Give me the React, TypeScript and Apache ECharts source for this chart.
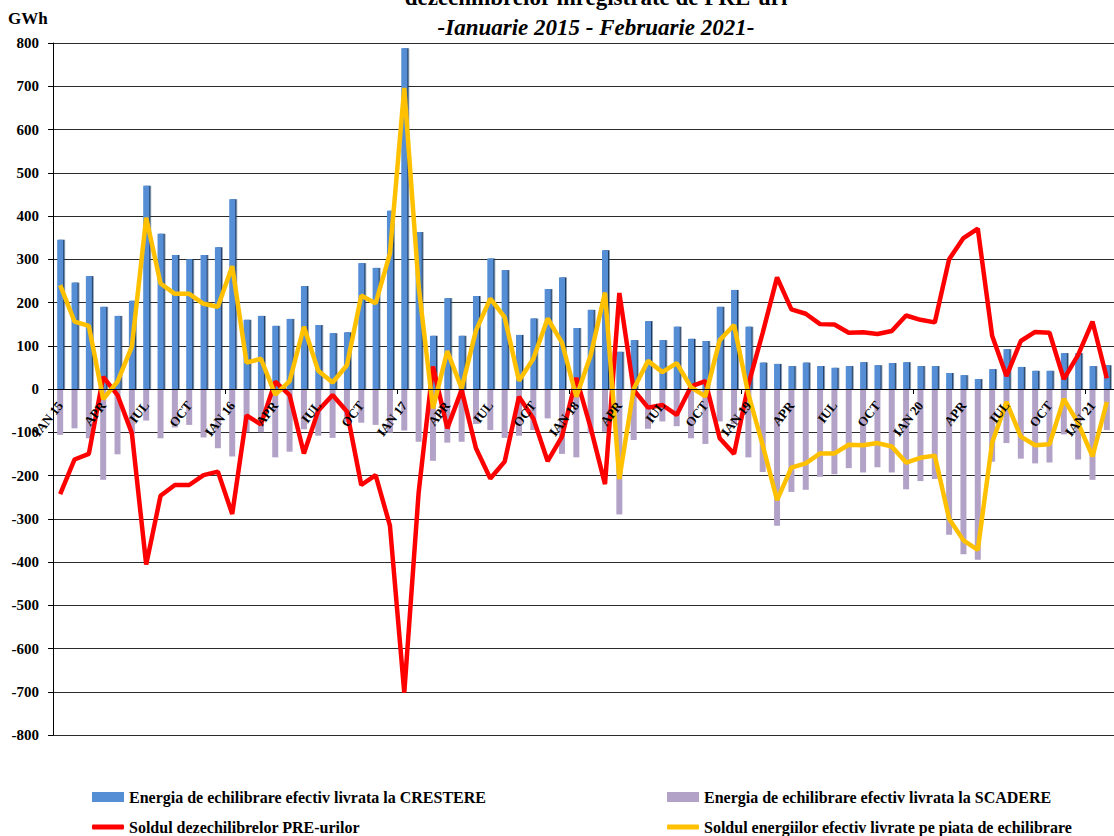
import React, { useEffect, useRef } from "react";
import * as echarts from "echarts";

const MONTHS = ["IAN", "FEB", "MAR", "APR", "MAI", "IUN", "IUL", "AUG", "SEP", "OCT", "NOI", "DEC"];
const YEARS = ["15", "16", "17", "18", "19", "20", "21"];

// Jan 2015 .. Feb 2021 (74 months)
const categories: string[] = [];
YEARS.forEach((y, yi) => {
  MONTHS.forEach((m, mi) => {
    if (yi === 6 && mi > 1) return;
    categories.push(mi === 0 ? `${m} ${y}` : m);
  });
});

const crestere = [
  345, 246, 261, 190, 169, 204, 470, 359, 310, 300, 310, 328,
  439, 160, 169, 146, 162, 238, 148, 129, 131, 291, 280, 412,
  788, 363, 123, 210, 123, 215, 302, 275, 125, 163, 231, 258,
  141, 183, 321, 86, 113, 157, 113, 144, 116, 111, 190, 229,
  144, 61, 58, 53, 61, 53, 49, 53, 62, 55, 60, 62,
  53, 53, 37, 32, 23, 46, 92, 51, 42, 42, 83, 83,
  53, 55,
];

const scadere = [
  -106, -91, -114, -210, -151, -104, -73, -114, -89, -83, -112, -137,
  -156, -100, -100, -158, -145, -93, -108, -113, -76, -78, -83, -101,
  -96, -122, -166, -124, -122, -81, -95, -113, -108, -95, -68, -150,
  -158, -103, -99, -290, -118, -92, -75, -86, -114, -127, -75, -81,
  -158, -192, -316, -238, -233, -203, -197, -183, -193, -181, -193, -232,
  -213, -208, -337, -382, -395, -168, -125, -161, -172, -170, -105, -163,
  -210, -95,
];

const soldPRE = [
  -243, -163, -150, 28, -14, -102, -406, -247, -222, -222, -199, -191,
  -289, -61, -82, 17, -14, -149, -50, -14, -52, -222, -199, -316,
  -702, -240, 52, -91, -2, -137, -207, -168, -18, -68, -167, -110,
  26, -90, -220, 222, -2, -43, -37, -60, 6, 18, -114, -150,
  10, 130, 258, 184, 174, 150, 149, 130, 131, 127, 134, 170,
  160, 154, 300, 349, 371, 123, 30, 111, 132, 130, 23, 79,
  156, 25,
];

const soldPE = [
  240, 156, 146, -23, 17, 98, 396, 244, 220, 220, 197, 190,
  284, 61, 70, -13, 18, 144, 42, 15, 55, 216, 198, 313,
  696, 238, -45, 88, 1, 135, 209, 166, 19, 70, 163, 107,
  -18, 78, 223, -208, 0, 65, 39, 60, 4, -17, 113, 148,
  -12, -130, -257, -182, -172, -149, -149, -129, -130, -125, -133, -170,
  -159, -154, -300, -350, -372, -124, -30, -110, -130, -128, -23, -79,
  -156, -30,
];

const NAME_CRESTERE = "Energia de echilibrare efectiv livrata la CRESTERE";
const NAME_SCADERE = "Energia de echilibrare efectiv livrata la SCADERE";
const NAME_PRE = "Soldul dezechilibrelor PRE-urilor";
const NAME_PE = "Soldul energiilor efectiv livrate pe piata de echilibrare";

const FONT = "'Liberation Serif', 'Times New Roman', serif";

export default function App() {
  const ref = useRef<HTMLDivElement>(null);
  useEffect(() => {
    if (!ref.current) return;
    const chart = echarts.init(ref.current, undefined, { renderer: "svg" });
    const legendText = { fontFamily: FONT, fontWeight: "bold", fontSize: 16, color: "#000" };
    const legendBase = { padding: 0, itemGap: 0, textStyle: legendText };
    chart.setOption({
      animation: false,
      backgroundColor: "#fff",
      graphic: [
        {
          type: "text",
          left: 8,
          top: 10,
          style: { text: "GWh", font: `bold 17px ${FONT}`, fill: "#000" },
        },
        {
          type: "text",
          x: 596,
          y: -3,
          style: {
            text: "dezechilibrelor inregistrate de PRE-uri",
            font: `bold 23px ${FONT}`,
            fill: "#000",
            align: "center",
            verticalAlign: "middle",
          },
        },
        {
          type: "text",
          x: 596,
          y: 27,
          style: {
            text: "-Ianuarie 2015 - Februarie 2021-",
            font: `italic bold 23px ${FONT}`,
            fill: "#000",
            align: "center",
            verticalAlign: "middle",
          },
        },
      ],
      legend: [
        {
          ...legendBase, left: 92, top: 789, itemWidth: 32, itemHeight: 10, icon: "rect",
          data: [NAME_CRESTERE],
        },
        {
          ...legendBase, left: 667, top: 789, itemWidth: 32, itemHeight: 10, icon: "rect",
          data: [NAME_SCADERE],
        },
        {
          ...legendBase, left: 92, top: 819, itemWidth: 32, itemHeight: 5, icon: "roundRect",
          data: [NAME_PRE],
        },
        {
          ...legendBase, left: 667, top: 819, itemWidth: 32, itemHeight: 5, icon: "roundRect",
          data: [NAME_PE],
        },
      ],
      grid: { left: 53, top: 43, width: 1070, height: 692, containLabel: false },
      xAxis: {
        type: "category",
        data: categories,
        boundaryGap: true,
        position: "bottom",
        offset: -346,
        axisLine: { onZero: false, lineStyle: { color: "#000", width: 1 } },
        axisTick: { show: true, interval: 11, length: 5, lineStyle: { color: "#000" } },
        axisLabel: {
          interval: 2,
          rotate: 52,
          margin: 14,
          fontFamily: FONT,
          fontWeight: "bold",
          fontSize: 13,
          color: "#000",
        },
        splitLine: { show: false },
        z: 10,
      },
      yAxis: {
        type: "value",
        min: -800,
        max: 800,
        interval: 100,
        axisLine: { show: true, lineStyle: { color: "#000", width: 1 } },
        axisTick: { show: true, length: 5, lineStyle: { color: "#000" } },
        axisLabel: {
          margin: 14,
          fontFamily: FONT,
          fontWeight: "bold",
          fontSize: 15,
          color: "#000",
        },
        splitLine: { show: true, lineStyle: { color: "#2b2b2b", width: 1 } },
      },
      series: [
        {
          name: NAME_CRESTERE,
          type: "bar",
          data: crestere,
          barWidth: 6,
          barGap: "-100%",
          itemStyle: {
            color: "#558ED5",
            shadowColor: "#1F3A60",
            shadowOffsetX: 1.5,
            shadowBlur: 0,
          },
        },
        {
          name: NAME_SCADERE,
          type: "bar",
          data: scadere,
          barWidth: 6,
          barGap: "-100%",
          itemStyle: { color: "#B3A2C7" },
        },
        {
          name: NAME_PRE,
          type: "line",
          data: soldPRE,
          symbol: "none",
          lineStyle: { color: "#FF0000", width: 4.5 },
          itemStyle: { color: "#FF0000" },
          z: 3,
        },
        {
          name: NAME_PE,
          type: "line",
          data: soldPE,
          symbol: "none",
          lineStyle: { color: "#FFC000", width: 4.5 },
          itemStyle: { color: "#FFC000" },
          z: 4,
        },
      ],
    });
    return () => chart.dispose();
  }, []);
  return (
    <div
      ref={ref}
      style={{ position: "fixed", left: 0, top: 0, width: 1114, height: 836, background: "#fff" }}
    />
  );
}
